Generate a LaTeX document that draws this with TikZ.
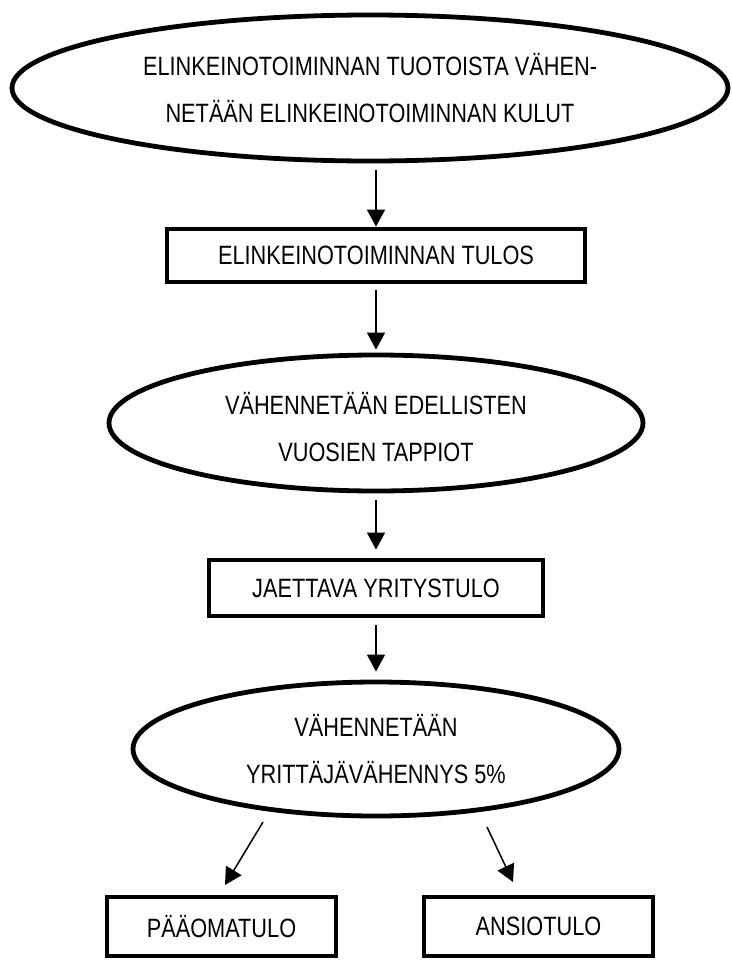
\documentclass[tikz,border=0pt]{standalone}
\usepackage{fontspec}
\setmainfont{Liberation Sans}[FakeStretch=0.82]
\usetikzlibrary{shapes.geometric,arrows.meta}
\tikzset{
  shapeline/.style={draw=black,line width=4.8pt,fill=white,inner sep=0pt,align=center,
    font=\fontsize{26.5}{47}\selectfont},
  oval/.style={shapeline,ellipse},
  boxnode/.style={shapeline,rectangle},
  arr/.style={draw=black,line width=1.5pt,-{Triangle[length=17pt,width=18pt]}}
}
\begin{document}
\begin{tikzpicture}[x=1pt,y=-1pt]
\useasboundingbox (0,0) rectangle (731,961);
\node[oval,minimum width=716pt,minimum height=146pt] (e1) at (370,88)
  {ELINKEINOTOIMINNAN TUOTOISTA VÄHEN-\\NETÄÄN ELINKEINOTOIMINNAN KULUT};
\node[boxnode,minimum width=418pt,minimum height=53pt] (b1) at (376,255.5)
  {ELINKEINOTOIMINNAN TULOS};
\node[oval,minimum width=534pt,minimum height=136pt] (e2) at (376,423)
  {\rule{0pt}{30pt}VÄHENNETÄÄN EDELLISTEN\\VUOSIEN TAPPIOT};
\node[boxnode,minimum width=334pt,minimum height=56pt] (b2) at (376,588)
  {JAETTAVA YRITYSTULO};
\node[oval,minimum width=486pt,minimum height=134pt] (e3) at (376,749)
  {VÄHENNETÄÄN\\YRITTÄJÄVÄHENNYS 5\%};
\node[boxnode,minimum width=229pt,minimum height=59pt] (pb) at (221.5,926.5)
  {PÄÄOMATULO};
\node[boxnode,minimum width=229pt,minimum height=59pt] (ab) at (538.5,926.5)
  {ANSIOTULO};
\draw[arr,shorten <=7pt] (e1.south -| b1.north) -- (b1.north);
\draw[arr,shorten <=6pt,shorten >=3pt] (b1.south) -- (e2.north);
\draw[arr,shorten <=7pt,shorten >=8pt] (e2.south) -- (b2.north);
\draw[arr,shorten <=7pt,shorten >=8pt] (b2.south) -- (e3.north);
\coordinate (ls) at (263,822);
\coordinate (lt) at (225,885);
\coordinate (rs) at (487,827);
\coordinate (rt) at (513,882);
\draw[arr] (ls) -- (lt);
\draw[arr] (rs) -- (rt);
\end{tikzpicture}
\end{document}
